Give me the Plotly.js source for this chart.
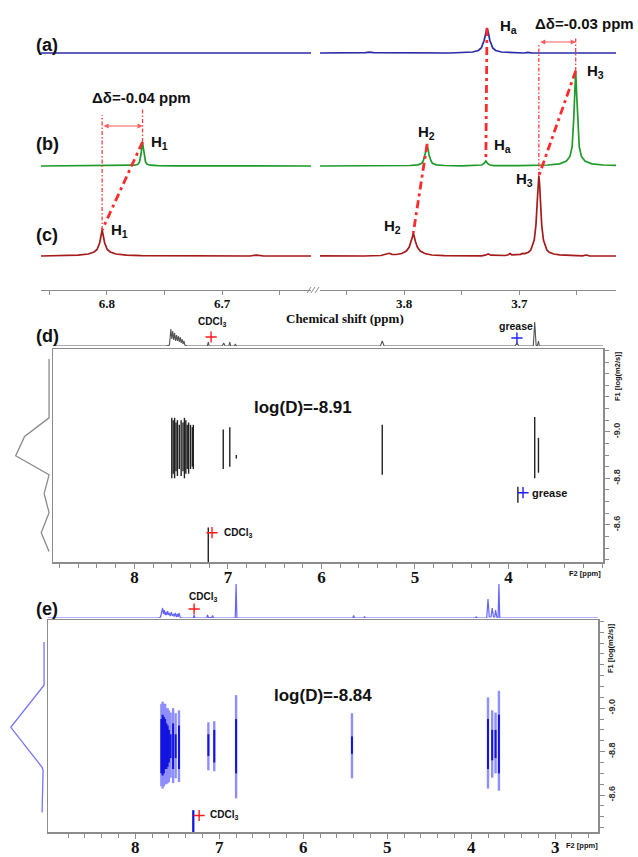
<!DOCTYPE html>
<html><head><meta charset="utf-8">
<script src="https://cdn.plot.ly/plotly-3.0.1.min.js"></script>
<style>html,body{margin:0;padding:0;background:#fff}#chart{width:638px;height:857px}</style>
</head><body><div id="chart"></div>
<script>
// ================= DATA =================
// 1H spectra, stacked panel: ppm / intensity (a.u.), left (aromatic) and right (aliphatic) windows
const specA_left_ppm = [6.857, 6.623];
const specA_left_int = [0, 0];
const specA_right_ppm = [3.873, 3.840, 3.8335, 3.830, 3.8265, 3.760, 3.753, 3.7405, 3.7355, 3.733, 3.7305, 3.7292, 3.728, 3.7268, 3.7255, 3.723, 3.7205, 3.7155, 3.703, 3.696, 3.6925, 3.689, 3.616];
const specA_right_int = [0, 0, 0.3, 0.8, 0.3, 0, 0.25, 1, 2.5, 5, 12.5, 20, 25, 20, 12.5, 5, 2.5, 1, 0.25, 0, 0.7, 0, 0];

const specB_left_ppm = [6.857, 6.800, 6.782, 6.776, 6.773, 6.7716, 6.7703, 6.7697, 6.769, 6.7683, 6.7677, 6.7664, 6.765, 6.762, 6.756, 6.740, 6.623];
const specB_left_int = [0, 0.1, 0.3, 0.8, 1.8, 4, 12, 18, 24, 18, 12, 4, 1.8, 0.8, 0.3, 0.1, 0];
const specB_right_ppm = [3.873, 3.810, 3.795, 3.788, 3.7846, 3.7834, 3.7817, 3.7808, 3.780, 3.7792, 3.7783, 3.7766, 3.7754, 3.772, 3.765, 3.750, 3.736, 3.7325, 3.7305, 3.7298, 3.729, 3.7282, 3.7275, 3.7255, 3.722, 3.700, 3.675, 3.665, 3.659, 3.656, 3.6541, 3.6527, 3.6519, 3.651, 3.6501, 3.6493, 3.6479, 3.646, 3.643, 3.637, 3.627, 3.616];
const specB_right_int = [0, 0.2, 0.5, 1.2, 2.8, 5, 11, 16, 22, 16, 11, 5, 2.8, 1.2, 0.5, 0.2, 0.3, 1, 2.5, 3.8, 5, 3.8, 2.5, 1, 0.3, 0.3, 1, 2.2, 5, 9.5, 19, 47, 70, 95, 70, 47, 19, 9.5, 5, 2.2, 1, 0.6];

const specC_left_ppm = [6.857, 6.840, 6.825, 6.816, 6.811, 6.8084, 6.8062, 6.805, 6.804, 6.803, 6.8018, 6.7996, 6.797, 6.792, 6.783, 6.770, 6.740, 6.720, 6.700, 6.676, 6.670, 6.664, 6.623];
const specC_left_int = [0, 0.3, 0.8, 2, 4, 6.5, 13, 20, 26, 20, 13, 6.5, 4, 2, 0.8, 0.3, 0, 0.3, 0, 0, 0.9, 0, 0];
const specC_right_ppm = [3.873, 3.860, 3.845, 3.835, 3.820, 3.8155, 3.813, 3.8105, 3.807, 3.802, 3.798, 3.7955, 3.794, 3.7928, 3.792, 3.7912, 3.790, 3.7885, 3.786, 3.782, 3.776, 3.765, 3.745, 3.733, 3.7295, 3.727, 3.7245, 3.718, 3.712, 3.7095, 3.708, 3.7065, 3.702, 3.699, 3.697, 3.695, 3.692, 3.690, 3.687, 3.6855, 3.6843, 3.6836, 3.683, 3.6824, 3.6817, 3.6805, 3.679, 3.676, 3.674, 3.670, 3.665, 3.655, 3.645, 3.642, 3.639, 3.630, 3.620, 3.616];
const specC_right_int = [0.2, 0, 0.4, 0, 0.5, 1.5, 2.7, 1.6, 1.5, 2.5, 5, 9, 14, 19, 23, 19, 14, 9, 5, 2.5, 1, 0.3, 0, 0.2, 0.8, 2, 0.8, 0.4, 0.5, 1.2, 2.5, 1.2, 1, 1.6, 2.6, 2.4, 3.8, 6, 16, 31, 56, 73, 80, 73, 56, 31, 16, 6, 3.8, 2, 1.2, 0.5, 0.2, 1, 0.2, 0, 0.4, 0];

// DOSY (d): F2 projection, F1 projection, contour extents
const d1dPpm = [8.87, 7.66, 7.625, 7.61, 7.60, 7.59, 7.58, 7.57, 7.56, 7.55, 7.54, 7.53, 7.52, 7.51, 7.50, 7.49, 7.48, 7.47, 7.46, 7.44, 7.22, 7.21, 7.20, 7.06, 7.045, 7.03, 6.99, 6.98, 6.97, 6.93, 6.92, 6.91, 5.37, 5.35, 5.33, 3.93, 3.91, 3.89, 3.735, 3.72, 3.705, 3.69, 3.68, 3.67, 2.99];
const d1dInt = [0, 0, 1, 17, 7, 15, 6, 13, 5, 11, 5, 10, 4, 9, 3, 7, 2, 5, 1, 0.3, 0, 4, 0, 0, 3, 0, 0, 4, 0, 0, 2, 0, 0, 5, 0, 0, 3, 0, 0, 24, 0.5, 0.5, 5, 0, 0];
const dProjLogD = [-9.313, -9.06, -8.98, -8.897, -8.815, -8.734, -8.652, -8.566, -8.485];
const dProjInt = [0, 0, 25, 34, 0, 5, 0, 8, 0];
const dContPpm = [7.60, 7.585, 7.57, 7.555, 7.54, 7.52, 7.50, 7.48, 7.465, 7.45, 7.435, 7.42, 7.40, 7.38, 7.37, 7.05, 6.98, 6.91, 5.35, 3.72, 3.68, 3.90, 7.21];
const dContLow = [-9.06, -9.05, -9.06, -9.04, -9.05, -9.03, -9.05, -9.04, -9.06, -9.05, -9.03, -9.04, -9.03, -9.02, -9.03, -9.01, -9.02, -8.90, -9.03, -9.064, -8.974, -8.764, -8.588];
const dContHigh = [-8.80, -8.82, -8.80, -8.83, -8.81, -8.84, -8.81, -8.83, -8.80, -8.82, -8.84, -8.82, -8.84, -8.85, -8.84, -8.84, -8.85, -8.885, -8.815, -8.80, -8.824, -8.695, -8.44];

// DOSY (e)
const e1dPpm = [9.04, 7.72, 7.70, 7.675, 7.665, 7.655, 7.645, 7.635, 7.625, 7.615, 7.605, 7.595, 7.585, 7.57, 7.56, 7.545, 7.535, 7.525, 7.51, 7.50, 7.49, 7.48, 7.465, 7.45, 7.31, 7.30, 7.29, 7.15, 7.14, 7.13, 7.09, 7.08, 7.07, 6.81, 6.80, 6.79, 5.41, 5.40, 5.39, 5.28, 5.27, 5.26, 3.95, 3.94, 3.93, 3.815, 3.80, 3.785, 3.765, 3.75, 3.735, 3.72, 3.71, 3.695, 3.68, 3.67, 3.66, 2.49];
const e1dInt = [0, 0, 1, 10, 4, 8, 3, 6, 3, 7, 3, 5, 2, 6, 2, 4, 1.5, 5, 1, 4, 1, 5, 0.5, 0, 0, 3, 0, 0, 3, 0.5, 0.5, 2.5, 0, 0, 34, 0, 0, 2.5, 0, 0, 1.5, 0, 0, 1, 0, 0, 19, 1, 1, 10, 1, 1, 8, 1, 0.5, 34, 0, 0];
const eProjLogD = [-9.305, -9.106, -8.912, -8.728, -8.714, -8.52];
const eProjInt = [1, 1, 35, 3, 2, 3];
const eContPpm = [7.69, 7.675, 7.66, 7.645, 7.63, 7.615, 7.60, 7.58, 7.55, 7.52, 7.48, 7.13, 7.06, 6.80, 5.42, 3.80, 3.75, 3.71, 3.67, 7.31];
const eOutLow = [-9.02, -9.03, -9.02, -9.02, -9.00, -9.0, -8.99, -8.98, -9.0, -8.977, -8.99, -8.935, -8.94, -9.06, -8.977, -9.05, -8.99, -8.98, -9.08, -8.53];
const eOutHigh = [-8.64, -8.63, -8.64, -8.65, -8.65, -8.655, -8.66, -8.68, -8.655, -8.677, -8.66, -8.714, -8.71, -8.585, -8.677, -8.63, -8.68, -8.70, -8.62, -8.43];
const eInLow = [-8.95, -8.97, -8.96, -8.95, -8.93, -8.92, -8.9, -8.88, -8.93, -8.88, -8.92, -8.88, -8.90, -8.95, -8.87, -8.95, -8.90, -8.90, -8.97, -8.53];
const eInHigh = [-8.70, -8.69, -8.70, -8.72, -8.72, -8.73, -8.75, -8.77, -8.72, -8.77, -8.72, -8.78, -8.75, -8.70, -8.79, -8.72, -8.76, -8.77, -8.70, -8.43];

// marker positions (impurity crosses)
const dCrossCDCl3 = {ppm: 7.17, logD: -8.566, ppm1d: 7.18, int1d: 9};
const dCrossGrease = {ppm: 3.845, logD: -8.738, ppm1d: 3.91, int1d: 8};
const eCrossCDCl3 = {ppm: 7.24, logD: -8.506, ppm1d: 7.30, int1d: 9};

// ================= DRAWING =================
const W = 638, H = 857;
const X = p => p / W, Y = p => 1 - p / H;
const GRAY = '#8c8c8c';
const SANS = 'Liberation Sans, Arial, sans-serif';
const SERIF = 'Liberation Serif, Times New Roman, serif';
const RED = '#ff2b2b';
const OFF = {a: 237, b: 124, c: 34};
const COL = {a: '#2b2ba6', b: '#1f9a2a', c: '#a51a1a'};

const traces = [];
function line(x, y, xa, ya, color, width) {
  traces.push({type: 'scatter', mode: 'lines', x, y, xaxis: xa, yaxis: ya,
    line: {color, width}, hoverinfo: 'skip', showlegend: false});
}
const shift = (arr, o) => arr.map(v => v + o);
line(specA_left_ppm, shift(specA_left_int, OFF.a), 'x', 'y', COL.a, 1.7);
line(specA_right_ppm, shift(specA_right_int, OFF.a), 'x2', 'y', COL.a, 1.7);
line(specB_left_ppm, shift(specB_left_int, OFF.b), 'x', 'y', COL.b, 1.7);
line(specB_right_ppm, shift(specB_right_int, OFF.b), 'x2', 'y', COL.b, 1.7);
line(specC_left_ppm, shift(specC_left_int, OFF.c), 'x', 'y', COL.c, 1.7);
line(specC_right_ppm, shift(specC_right_int, OFF.c), 'x2', 'y', COL.c, 1.7);

function segs(p, lo, hi) {
  const x = [], y = [];
  p.forEach((v, i) => { x.push(v, v, null); y.push(lo[i], hi[i], null); });
  return {x, y};
}
// DOSY d
line(d1dPpm, d1dInt, 'x3', 'y4', '#555555', 1.1);
line(dProjInt, dProjLogD, 'x5', 'y3', '#8a8a8a', 1.3);
let s = segs(dContPpm, dContLow, dContHigh);
line(s.x, s.y, 'x3', 'y3', '#222222', 1.4);
// DOSY e
line(e1dPpm, e1dInt, 'x6', 'y7', '#6464ff', 1.2);
line(eProjInt, eProjLogD, 'x8', 'y6', '#7474ff', 1.3);
s = segs(eContPpm, eOutLow, eOutHigh);
line(s.x, s.y, 'x6', 'y6', '#8e8eff', 2.4);
s = segs(eContPpm, eInLow, eInHigh);
line(s.x, s.y, 'x6', 'y6', '#1414e0', 2.0);

function cross(x, y, xa, ya, color) {
  traces.push({type: 'scatter', mode: 'markers', x: [x], y: [y], xaxis: xa, yaxis: ya,
    marker: {symbol: 'cross-thin', size: 8, line: {color, width: 1.4}}, hoverinfo: 'skip', showlegend: false});
}
cross(dCrossCDCl3.ppm1d, dCrossCDCl3.int1d, 'x3', 'y4', '#ff1a1a');
cross(dCrossGrease.ppm1d, dCrossGrease.int1d, 'x3', 'y4', '#2020ff');
cross(dCrossCDCl3.ppm, dCrossCDCl3.logD, 'x3', 'y3', '#ff1a1a');
cross(dCrossGrease.ppm, dCrossGrease.logD, 'x3', 'y3', '#2020ff');
cross(eCrossCDCl3.ppm1d, eCrossCDCl3.int1d, 'x6', 'y7', '#ff1a1a');
cross(eCrossCDCl3.ppm, eCrossCDCl3.logD, 'x6', 'y6', '#ff1a1a');

// ---- connectors between peaks (from spectrum apexes) ----
function apex(xs, ys, lo, hi, off) {
  let bi = -1;
  for (let i = 0; i < xs.length; i++) if (xs[i] >= lo && xs[i] <= hi && (bi < 0 || ys[i] > ys[bi])) bi = i;
  return [xs[bi], ys[bi] + off];
}
const H1b = apex(specB_left_ppm, specB_left_int, 6.76, 6.78, OFF.b);
const H1c = apex(specC_left_ppm, specC_left_int, 6.79, 6.82, OFF.c);
const H2b = apex(specB_right_ppm, specB_right_int, 3.77, 3.79, OFF.b);
const H2c = apex(specC_right_ppm, specC_right_int, 3.785, 3.80, OFF.c);
const Haa = apex(specA_right_ppm, specA_right_int, 3.72, 3.74, OFF.a);
const Hab = apex(specB_right_ppm, specB_right_int, 3.72, 3.74, OFF.b);
const H3b = apex(specB_right_ppm, specB_right_int, 3.64, 3.66, OFF.b);
const H3c = apex(specC_right_ppm, specC_right_int, 3.675, 3.69, OFF.c);

const shapes = [];
const THICK = {color: RED, width: 2.8, dash: '8px,4px,3px,4px'};
const THIN = {color: '#ff4040', width: 1.3, dash: '4px,2px,1.5px,2px'};
function seg(xa, x0, y0, x1, y1, ln) { shapes.push({type: 'line', xref: xa, yref: 'y', x0, y0, x1, y1, line: ln}); }
seg('x', H1b[0], H1b[1], H1c[0], H1c[1], THICK);
seg('x', H1c[0], H1c[1], H1c[0], 175, THIN);
seg('x', H1b[0], H1b[1], H1b[0], 182, THIN);
seg('x2', Haa[0], Haa[1], Hab[0], Hab[1], THICK);
seg('x2', H2b[0], H2b[1], H2c[0], H2c[1], THICK);
seg('x2', H3b[0], H3b[1], H3c[0], H3c[1], THICK);
seg('x2', H3c[0], H3c[1], H3c[0], 247, THIN);
seg('x2', H3b[0], H3b[1], H3b[0], 253, THIN);
// axis break marks
[309, 313, 317].forEach(p => shapes.push({type: 'line', xref: 'paper', yref: 'paper',
  x0: X(p - 2), y0: Y(293), x1: X(p + 2), y1: Y(287), line: {color: GRAY, width: 1}}));

const anns = [];
function T(text, x, y, size, extra) {
  anns.push(Object.assign({text, x: X(x), y: Y(y), xref: 'paper', yref: 'paper', showarrow: false,
    xanchor: 'center', yanchor: 'middle',
    font: {family: SANS, size, color: '#111', weight: 'bold'}}, extra || {}));
}
function arrow(xa, xFrom, xTo, yv) {
  anns.push({xref: xa, yref: 'y', axref: xa, ayref: 'y', x: xTo, y: yv, ax: xFrom, ay: yv, text: '',
    showarrow: true, arrowhead: 2, arrowside: 'end+start', arrowsize: 1, arrowwidth: 1, arrowcolor: '#ff5a5a'});
}
arrow('x', H1c[0], H1b[0], 164);
arrow('x2', H3c[0], H3b[0], 248);

['(a)', '(b)', '(c)', '(d)', '(e)'].forEach((t, i) => T(t, 47, [45, 144, 235, 336, 609][i], 18));
T('H<sub>a</sub>', 508, 26, 15);
T('Δδ=-0.03 ppm', 584, 24, 15);
T('Δδ=-0.04 ppm', 141, 98, 15);
T('H<sub>1</sub>', 160, 142, 15);
T('H<sub>1</sub>', 119, 231, 15);
T('H<sub>2</sub>', 426, 132, 15);
T('H<sub>a</sub>', 502, 145, 15);
T('H<sub>3</sub>', 595, 72, 15);
T('H<sub>3</sub>', 524, 180, 15);
T('H<sub>2</sub>', 392, 226, 15);
T('Chemical shift (ppm)', 345, 319, 13, {font: {family: SERIF, size: 13, color: '#111', weight: 'bold'}});

T('log(D)=-8.91', 303, 407, 17);
T('CDCl<sub>3</sub>', 212, 322, 10);
T('grease', 516, 326, 10.5);
T('CDCl<sub>3</sub>', 222, 533, 10, {xanchor: 'left'});
T('grease', 530, 493, 11, {xanchor: 'left'});
T('F2 [ppm]', 585, 573, 7.5);
T('F1 [log(m2/s)]', 617, 376, 7.5, {textangle: -90});

T('log(D)=-8.84', 323, 695, 17);
T('CDCl<sub>3</sub>', 203, 597, 10);
T('CDCl<sub>3</sub>', 208, 815, 10, {xanchor: 'left'});
T('F2 [ppm]', 582, 845, 7.5);
T('F1 [log(m2/s)]', 610, 648, 7.5, {textangle: -90});

function vals(a, b, st) { const v = []; for (let t = a; t <= b + 1e-9; t += st) v.push(+t.toFixed(3)); return v; }
const topX = (dom, rng, major, minor) => ({
  domain: dom, range: rng, anchor: 'y', showline: true, linecolor: GRAY, linewidth: 1.2,
  ticks: 'outside', ticklen: 4, tickcolor: GRAY, tickwidth: 1, ticklabelstandoff: -3,
  tickmode: 'array', tickvals: major, ticktext: major.map(v => v.toFixed(1)),
  minor: {tickmode: 'array', tickvals: minor, ticks: 'outside', ticklen: 4, tickcolor: GRAY, tickwidth: 1},
  tickfont: {family: SERIF, size: 13, color: '#111', weight: 'bold'},
  showgrid: false, zeroline: false, fixedrange: true});
const dosyX = (dom, rng, anchor, major) => ({
  domain: dom, range: rng, anchor, showline: true, mirror: true, linecolor: GRAY, linewidth: 1.5,
  ticks: 'outside', ticklen: 5, tickcolor: GRAY, tickwidth: 1, ticklabelstandoff: -6,
  tickmode: 'array', tickvals: major, ticktext: major.map(String),
  minor: {tickmode: 'array', tickvals: vals(2.6, 8.8, 0.2), ticks: 'outside', ticklen: 4, tickcolor: GRAY, tickwidth: 1},
  tickfont: {family: SERIF, size: 17, color: '#111', weight: 'bold'},
  showgrid: false, zeroline: false, fixedrange: true});
const dosyY = (dom, rng, anchor) => ({
  domain: dom, range: rng, anchor, side: 'right', showline: true, mirror: true, linecolor: GRAY, linewidth: 1.5,
  ticks: 'outside', ticklen: 5, tickcolor: GRAY, tickwidth: 1,
  tickmode: 'array', tickvals: [-9.0, -8.8, -8.6], ticktext: ['-9.0', '-8.8', '-8.6'], tickangle: -90,
  minor: {tickmode: 'array', tickvals: vals(-9.4, -8.45, 0.05), ticks: 'outside', ticklen: 4, tickcolor: GRAY, tickwidth: 1},
  tickfont: {family: SANS, size: 9, color: '#333', weight: 'bold'},
  showgrid: false, zeroline: false, fixedrange: true});
const hidden = (dom, rng, anchor) => ({domain: dom, range: rng, anchor, visible: false, fixedrange: true});

const layout = {
  width: W, height: H, margin: {l: 0, r: 0, t: 0, b: 0},
  paper_bgcolor: '#fff', plot_bgcolor: 'rgba(0,0,0,0)', showlegend: false, hovermode: false,
  xaxis: topX([41 / W, 311 / W], [6.857, 6.623], [6.8, 6.7], [6.85, 6.75, 6.65]),
  xaxis2: topX([320 / W, 616 / W], [3.873, 3.616], [3.8, 3.7], [3.85, 3.75, 3.65]),
  yaxis: hidden([Y(290), 1], [0, 290], 'x'),
  xaxis3: dosyX([53 / W, 603 / W], [8.87, 2.99], 'y3', [8, 7, 6, 5, 4]),
  yaxis3: dosyY([Y(562), Y(349)], [-8.44, -9.356], 'x3'),
  yaxis4: hidden([Y(346), Y(300)], [0, 46], 'x3'),
  xaxis5: hidden([0, 52 / W], [50, -3], 'y3'),
  xaxis6: dosyX([48 / W, 598 / W], [9.04, 2.49], 'y6', [8, 7, 6, 5, 4, 3]),
  yaxis6: dosyY([Y(832), Y(620)], [-8.43, -9.406], 'x6'),
  yaxis7: hidden([Y(618), Y(575)], [0, 43], 'x6'),
  xaxis8: hidden([0, 47 / W], [46, -2], 'y6'),
  shapes, annotations: anns
};
Plotly.newPlot('chart', traces, layout, {staticPlot: true, displayModeBar: false});
</script></body></html>
